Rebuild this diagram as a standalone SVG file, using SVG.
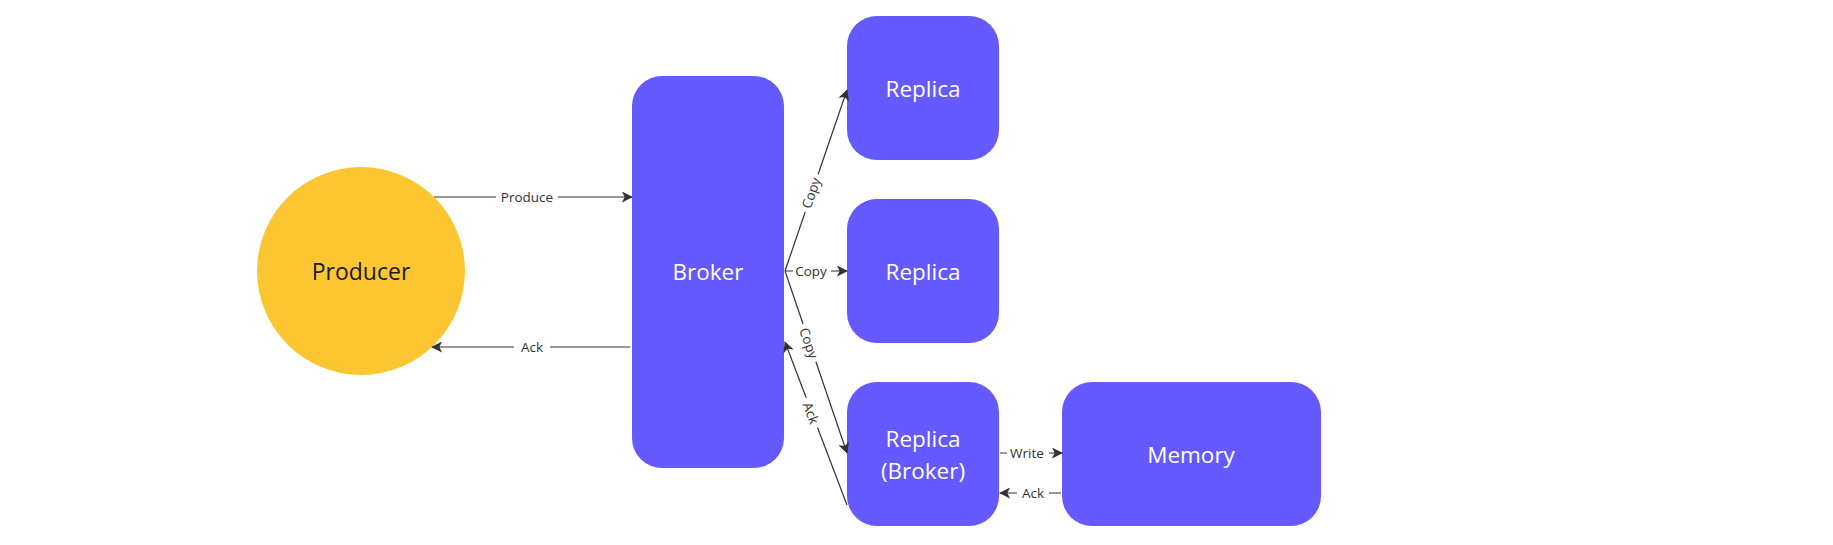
<svg xmlns="http://www.w3.org/2000/svg" width="1833" height="545" viewBox="0 0 1833 545">
<defs>
<style>
.node{fill:#645AFF}
.nt{font-family:"Open Sans","Noto Sans","Liberation Sans",sans-serif;font-size:22.5px;font-weight:500;fill:#ffffff;text-anchor:middle;dominant-baseline:central}
.pt{font-family:"Open Sans","Noto Sans","Liberation Sans",sans-serif;font-size:23px;fill:#1a1a1a;text-anchor:middle;dominant-baseline:central}
.edge{stroke:#333333;stroke-width:1.2;fill:none;marker-end:url(#arrow)}
.el{font-family:"Open Sans","Noto Sans","Liberation Sans",sans-serif;font-size:13.5px;fill:#333333;text-anchor:middle;dominant-baseline:central}
.bg{fill:#ffffff}
</style>
<marker id="arrow" viewBox="0 0 12 12" refX="11" refY="6" markerWidth="11" markerHeight="11" markerUnits="userSpaceOnUse" orient="auto">
<path d="M0,0 L12,6 L0,12 L3,6 z" fill="#333333"/>
</marker>
</defs>
<rect width="1833" height="545" fill="#ffffff"/>
<g id="producer"><circle cx="361" cy="271" r="104" fill="#FCC532"/><text class="pt" x="361" y="271">Producer</text></g>
<g id="broker"><rect class="node" x="632" y="76" width="152" height="392" rx="30"/><text class="nt" x="708" y="271">Broker</text></g>
<g id="replica1"><rect class="node" x="847" y="16" width="152" height="144" rx="30"/><text class="nt" x="923" y="88">Replica</text></g>
<g id="replica2"><rect class="node" x="847" y="199" width="152" height="144" rx="30"/><text class="nt" x="923" y="271">Replica</text></g>
<g id="replica3"><rect class="node" x="847" y="382" width="152" height="144" rx="30"/><text class="nt" x="923" y="438">Replica</text><text class="nt" x="923" y="470">(Broker)</text></g>
<g id="memory"><rect class="node" x="1062" y="382" width="259" height="144" rx="30"/><text class="nt" x="1191" y="454">Memory</text></g>
<g id="connectors">
<line class="edge" x1="434" y1="197" x2="632" y2="197"/>
<rect class="bg" x="496" y="188" width="62" height="18"/><text class="el" x="527" y="197">Produce</text>
<line class="edge" x1="630" y1="347" x2="432" y2="347"/>
<rect class="bg" x="514" y="338" width="36" height="18"/><text class="el" x="532" y="347">Ack</text>
<line class="edge" x1="785" y1="271" x2="847" y2="90"/>
<g transform="translate(811,193) rotate(-71)"><rect class="bg" x="-20" y="-8" width="40" height="16"/><text class="el" x="0" y="0">Copy</text></g>
<line class="edge" x1="785" y1="271" x2="847" y2="271"/>
<rect class="bg" x="793" y="263" width="38" height="16"/><text class="el" x="811" y="271">Copy</text>
<line class="edge" x1="785" y1="271" x2="847" y2="453"/>
<g transform="translate(809,343) rotate(71)"><rect class="bg" x="-20" y="-8" width="40" height="16"/><text class="el" x="0" y="0">Copy</text></g>
<line class="edge" x1="847" y1="505" x2="785" y2="342"/>
<g transform="translate(811,413) rotate(69)"><rect class="bg" x="-16" y="-8" width="32" height="16"/><text class="el" x="0" y="0">Ack</text></g>
<line class="edge" x1="1000" y1="453" x2="1062" y2="453"/>
<rect class="bg" x="1007" y="445" width="42" height="16"/><text class="el" x="1027" y="453">Write</text>
<line class="edge" x1="1061" y1="493" x2="1000" y2="493"/>
<rect class="bg" x="1017" y="485" width="32" height="16"/><text class="el" x="1033" y="493">Ack</text>
</g>
</svg>
